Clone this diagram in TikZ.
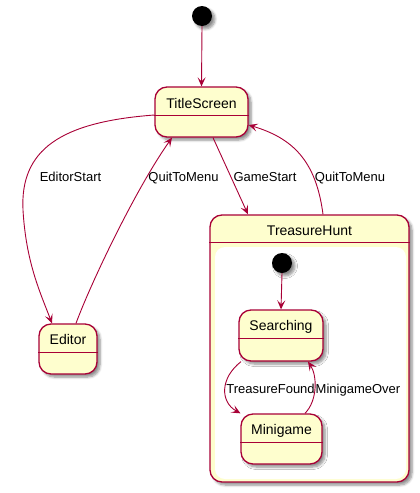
\documentclass[tikz,border=0pt]{standalone}
\usepackage{fontspec}
\setmainfont{Liberation Sans}
\usetikzlibrary{arrows.meta,shadows.blur,calc}
\definecolor{pfill}{HTML}{FEFECE}
\definecolor{pline}{HTML}{A80036}
\begin{document}
\begin{tikzpicture}[x=1pt,y=-1pt,
  shad/.style={blur shadow={shadow xshift=3pt,shadow yshift=-3pt,shadow blur steps=6,shadow blur radius=2.5pt,shadow opacity=45}},
  st/.style={draw=pline,fill=pfill,line width=1.3pt,rounded corners=12pt,shad,inner sep=0pt},
  sepline/.style={draw=pline,line width=1pt},
  ttl/.style={anchor=base,inner sep=0pt,font=\fontsize{14}{16}\selectfont},
  lbl/.style={anchor=base,inner sep=0pt,font=\fontsize{13}{15}\selectfont},
  dot/.style={circle,fill=black,minimum size=20pt,inner sep=0pt,shad},
  tr/.style={draw=pline,line width=0.9pt,-{Stealth[length=9pt,width=8pt,inset=4pt]}}
]
\useasboundingbox (0,0) rectangle (420,493);

% initial state
\node[dot] (i0) at (202,16) {};

% TitleScreen
\node[st,minimum width=93pt,minimum height=50pt] (ts) at (201.5,112) {};
\node[ttl] (tsT) at (201.5,108) {TitleScreen};
\draw[sepline] ($(ts.west)+(0,3)$) -- ($(ts.east)+(0,3)$);

% Editor
\node[st,minimum width=58pt,minimum height=50pt] (ed) at (68,349) {};
\node[ttl] (edT) at (68,344) {Editor};
\draw[sepline] ($(ed.west)+(0,3)$) -- ($(ed.east)+(0,3)$);

% TreasureHunt composite
\node[st,minimum width=199pt,minimum height=267pt] (th) at (309.5,348.5) {};
\node[ttl] (thT) at (309.5,235.5) {TreasureHunt};
\draw[sepline] ($(th.north west)+(0,28)$) -- ($(th.north east)+(0,28)$);
\node[fill=white,rounded corners=10pt,minimum width=191pt,minimum height=232pt,inner sep=0pt] (thIn) at (310.5,363) {};

% inner initial
\node[dot] (i1) at (282,263) {};

% Searching
\node[st,minimum width=84pt,minimum height=51pt] (se) at (281,335.5) {};
\node[ttl] (seT) at (281,330.5) {Searching};
\draw[sepline] ($(se.west)+(0,2.5)$) -- ($(se.east)+(0,2.5)$);

% Minigame
\node[st,minimum width=81pt,minimum height=50pt] (mg) at (281.5,439) {};
\node[ttl] (mgT) at (281.5,434.5) {Minigame};
\draw[sepline] ($(mg.west)+(0,3)$) -- ($(mg.east)+(0,3)$);

% transitions
\draw[tr] (i0.south) -- (ts.north);
\draw[tr] ($(ts.west)+(0,3)$) .. controls (60,122) and (20,150) .. (23,210)
          .. controls (26,262) and (40,292) .. ($(ed.north)+(-16,0)$);
\draw[tr] ($(ed.north)+(8,0)$) .. controls (90,285) and (135,190) .. ($(ts.south)+(-29.5,0)$);
\draw[tr] ($(ts.south)+(11.5,0)$) -- ($(th.north)+(-61.5,0)$);
\draw[tr] ($(th.north)+(13.5,0)$) .. controls (316,160) and (292,138) .. ($(ts.east)+(0,13)$);
\draw[tr] (i1.south) -- (se.north);
\draw[tr] ($(se.south)+(-40,0)$) .. controls (220,378) and (220,402) .. ($(mg.north)+(-41,0)$);
\draw[tr] ($(mg.north)+(23.5,0)$) .. controls (318,400) and (317,375) .. ($(se.south)+(27,0)$);

% labels
\node[lbl] (lEd) at (70.5,181) {EditorStart};
\node[lbl] (lQ1) at (183.5,181) {QuitToMenu};
\node[lbl] (lGs) at (265,181) {GameStart};
\node[lbl] (lQ2) at (350,181) {QuitToMenu};
\node[lbl] (lTf) at (270.5,393.5) {TreasureFound};
\node[lbl] (lMo) at (358,393.5) {MinigameOver};
\end{tikzpicture}
\end{document}
